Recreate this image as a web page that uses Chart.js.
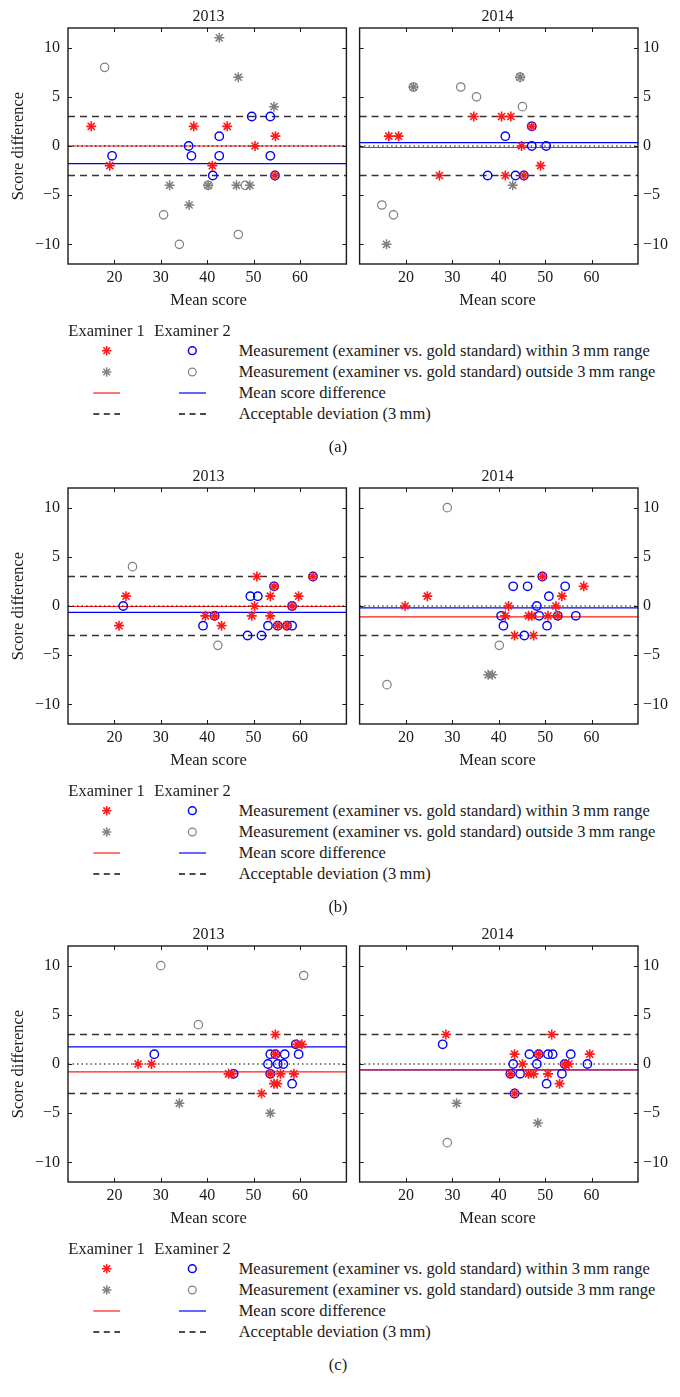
<!DOCTYPE html>
<html><head><meta charset="utf-8">
<script src="https://cdn.jsdelivr.net/npm/chart.js@4.4.1/dist/chart.umd.min.js"></script>
<style>
html,body{margin:0;padding:0;background:#fff;}
#root{position:relative;width:680px;height:1397px;overflow:hidden;font-family:"Liberation Serif","Times New Roman",serif;color:#1a1a1a;}
canvas{position:absolute;}
.t{position:absolute;white-space:nowrap;line-height:1;}
svg{position:absolute;overflow:visible;}
</style></head><body><div id="root"></div>
<script>
// ---- data (x = mean score, y = score difference) ----
const xTicks = [20, 30, 40, 50, 60];
const yTicks = [-10, -5, 0, 5, 10];
const panelTitles = ['2013', '2014'];
const captions = ['(a)', '(b)', '(c)'];
const acceptableDeviation = 3;

const a2013_e1_in  = [[15,2],[19,-2],[37.1,2],[44.3,2],[41.1,-2],[50.3,0],[54.7,1],[54.6,-3]];
const a2013_e2_in  = [[19.5,-1],[36,0],[36.6,-1],[42.6,1],[42.6,-1],[41.2,-3],[49.6,3],[53.6,3],[53.6,-1],[54.6,-3]];
const a2013_e1_out = [[42.6,11],[46.7,7],[54.4,4],[31.9,-4],[36.1,-6],[40.2,-4],[46.3,-4],[49.2,-4]];
const a2013_e2_out = [[17.9,8],[40.2,-4],[48.2,-4],[30.6,-7],[34,-10],[46.7,-9]];

const a2014_e1_in  = [[16.3,1],[18.4,1],[27.2,-3],[34.6,3],[40.6,3],[42.6,3],[41.4,-3],[44.9,0],[45.4,-3],[47.1,2],[49,-2]];
const a2014_e2_in  = [[41.4,1],[37.6,-3],[43.6,-3],[45.4,-3],[47.1,2],[47.1,0],[50.2,0]];
const a2014_e1_out = [[21.6,6],[44.6,7],[43,-4],[15.8,-10]];
const a2014_e2_out = [[21.6,6],[31.8,6],[35.2,5],[45.1,4],[44.6,7],[14.8,-6],[17.3,-7]];

const b2013_e1_in  = [[21,-2],[22.5,1],[39.6,-1],[41.6,-1],[43.1,-2],[49.6,-1],[50.7,3],[50.2,0],[53.6,1],[53.6,-1],[54.4,2],[55.2,-2],[57.2,-2],[58.3,0],[59.7,1],[62.8,3]];
const b2013_e2_in  = [[21.9,0],[39.1,-2],[41.6,-1],[48.7,-3],[49.3,1],[50.9,1],[51.7,-3],[53.1,-2],[54.4,2],[55.2,-2],[57.2,-2],[58.3,-2],[58.3,0],[62.8,3]];
const b2013_e1_out = [];
const b2013_e2_out = [[23.9,4],[42.3,-4]];

const b2014_e1_in  = [[19.8,0],[24.6,1],[41.4,-1],[42.1,0],[43.4,-3],[46.4,-1],[47.1,-1],[47.5,-3],[49.4,3],[50.6,-1],[52.3,0],[52.7,-1],[53.6,1],[58.3,2]];
const b2014_e2_in  = [[40.5,-1],[41,-2],[43.1,2],[45.5,-3],[46.2,2],[48.2,0],[48.7,-1],[49.4,3],[50.4,-2],[50.8,1],[52.7,-1],[54.3,2],[56.6,-1]];
const b2014_e1_out = [[37.7,-7],[38.6,-7]];
const b2014_e2_out = [[28.9,10],[40.1,-4],[15.9,-8]];

const c2013_e1_in  = [[25.1,0],[28,0],[44.6,-1],[45.3,-1],[51.7,-3],[53.6,-1],[54.7,3],[54.7,1],[54.4,-2],[55.1,-2],[55.8,-1],[58.7,-1],[59.4,2],[60.4,2]];
const c2013_e2_in  = [[28.6,1],[45.7,-1],[53.1,0],[53.6,1],[53.6,-1],[54.7,1],[55.2,0],[56.7,1],[56.4,0],[58.3,-2],[59.1,2],[59.7,1]];
const c2013_e1_out = [[34,-4],[53.6,-5]];
const c2013_e2_out = [[30,10],[38.1,4],[60.8,9]];

const c2014_e1_in  = [[28.6,3],[42.5,-1],[43.4,1],[43.4,-3],[45.1,0],[46.4,-1],[47.5,-1],[48.6,1],[50.6,-1],[51.4,3],[53.1,-2],[54.2,0],[55.1,0],[59.6,1]];
const c2014_e2_in  = [[27.9,2],[42.5,-1],[43.1,0],[43.4,-3],[44.6,-1],[46.6,1],[48.2,0],[48.6,1],[50.6,1],[51.6,1],[50.3,-2],[53.6,-1],[54.2,0],[55.5,1],[59.1,0]];
const c2014_e1_out = [[30.9,-4],[48.4,-6]];
const c2014_e2_out = [[28.9,-8]];

// mean score difference per panel: a2013, a2014, b2013, b2014, c2013, c2014
const meanExaminer1 = [0, -0.15, -0.05, -1.1, -0.8, -0.6];
const meanExaminer2 = [-1.8, 0.35, -0.65, -0.2, 1.75, -0.6];

const legendLabels = [
  'Measurement (examiner vs. gold standard) within 3\u2009mm range',
  'Measurement (examiner vs. gold standard) outside 3\u2009mm range',
  'Mean score difference',
  'Acceptable deviation (3\u2009mm)'
];
const legendHeaders = ['Examiner 1', 'Examiner 2'];

// ---- drawing ----
const RED = '#ff1a1a', BLUE = '#0000ff', GREY = '#7f7f7f', DASH = '#333333', INK = '#1a1a1a';
const FONT = 'Liberation Serif';
const root = document.getElementById('root');
const charts = [];
const panelSeries = [
  [a2013_e1_in, a2013_e2_in, a2013_e1_out, a2013_e2_out],
  [a2014_e1_in, a2014_e2_in, a2014_e1_out, a2014_e2_out],
  [b2013_e1_in, b2013_e2_in, b2013_e1_out, b2013_e2_out],
  [b2014_e1_in, b2014_e2_in, b2014_e1_out, b2014_e2_out],
  [c2013_e1_in, c2013_e2_in, c2013_e1_out, c2013_e2_out],
  [c2014_e1_in, c2014_e2_in, c2014_e1_out, c2014_e2_out]
];
const rowOffsets = [0, 460, 918];

function text(str, x, y, size, mode, extra) {
  const d = document.createElement('div');
  d.className = 't';
  d.textContent = str;
  d.style.left = x + 'px';
  d.style.top = y + 'px';
  d.style.fontSize = size + 'px';
  let tr = mode === 'center' ? 'translate(-50%,-50%)' : 'translate(0,-50%)';
  if (extra) tr += ' ' + extra;
  d.style.transform = tr;
  root.appendChild(d);
  return d;
}

const frame = {
  id: 'frame',
  afterDraw(chart) {
    const { ctx, chartArea: a, scales: { x, y } } = chart;
    ctx.save();
    ctx.strokeStyle = INK;
    ctx.lineWidth = 1;
    ctx.beginPath();
    xTicks.forEach(v => {
      const p = Math.round(x.getPixelForValue(v)) + 0.5;
      ctx.moveTo(p, a.bottom); ctx.lineTo(p, a.bottom - 4);
      ctx.moveTo(p, a.top); ctx.lineTo(p, a.top + 4);
    });
    yTicks.forEach(v => {
      const p = Math.round(y.getPixelForValue(v)) + 0.5;
      ctx.moveTo(a.left, p); ctx.lineTo(a.left + 4, p);
      ctx.moveTo(a.right, p); ctx.lineTo(a.right - 4, p);
    });
    ctx.stroke();
    ctx.lineWidth = 1.4;
    ctx.strokeRect(a.left, a.top, a.right - a.left, a.bottom - a.top);
    ctx.restore();
  }
};

function pts(arr) { return arr.map(p => ({ x: p[0], y: p[1] })); }
function hline(v) { return [{ x: 10, y: v }, { x: 70, y: v }]; }
function fmt(v) { return v < 0 ? '\u2212' + Math.abs(v) : String(v); }

function makePanel(idx) {
  const row = Math.floor(idx / 2), isLeft = idx % 2 === 0;
  const off = rowOffsets[row];
  const W = isLeft ? 353 : 327, H = 292;
  const c = document.createElement('canvas');
  c.width = W; c.height = H;
  c.style.width = W + 'px'; c.style.height = H + 'px';
  c.style.left = (isLeft ? 0 : 353) + 'px';
  c.style.top = off + 'px';
  root.appendChild(c);
  const [e1in, e2in, e1out, e2out] = panelSeries[idx];
  const m1 = meanExaminer1[idx], m2 = meanExaminer2[idx];
  const lineBase = { showLine: true, pointRadius: 0, fill: false, tension: 0 };
  charts.push(new Chart(c, {
    type: 'scatter',
    data: {
      datasets: [
        { data: pts(e1in), pointStyle: 'star', pointRadius: 5, borderColor: RED, borderWidth: 1.6, backgroundColor: RED, order: 0 },
        { data: pts(e2in), pointStyle: 'circle', pointRadius: 4.2, borderColor: BLUE, borderWidth: 1.4, backgroundColor: 'rgba(0,0,0,0)', order: 1 },
        { data: pts(e1out), pointStyle: 'star', pointRadius: 5, borderColor: GREY, borderWidth: 1.5, backgroundColor: GREY, order: 2 },
        { data: pts(e2out), pointStyle: 'circle', pointRadius: 4.2, borderColor: GREY, borderWidth: 1.2, backgroundColor: 'rgba(0,0,0,0)', order: 3 },
        Object.assign({ data: hline(0), borderColor: '#000', borderWidth: 1, borderDash: [1.5, 3] , order: 4}, lineBase),
        Object.assign({ data: hline(m1), borderColor: RED, borderWidth: 1.2, order: 5 }, lineBase),
        Object.assign({ data: hline(m2), borderColor: BLUE, borderWidth: 1.2, order: 6 }, lineBase),
        Object.assign({ data: hline(acceptableDeviation), borderColor: DASH, borderWidth: 1.5, borderDash: [7, 5], order: 7 }, lineBase),
        Object.assign({ data: hline(-acceptableDeviation), borderColor: DASH, borderWidth: 1.5, borderDash: [7, 5], order: 8 }, lineBase)
      ]
    },
    options: {
      responsive: false, animation: false, devicePixelRatio: 1,
      layout: { padding: { left: isLeft ? 0 : 4, right: isLeft ? 4 : 0, top: 28, bottom: 4 } },
      plugins: { legend: { display: false }, tooltip: { enabled: false } },
      scales: {
        x: {
          type: 'linear', min: 10, max: 70,
          afterBuildTicks: s => { s.ticks = xTicks.map(v => ({ value: v })); },
          afterFit: s => { s.height = 24; },
          grid: { display: false, drawTicks: false }, border: { display: false },
          ticks: { padding: 4, color: INK, font: { family: FONT, size: 16 }, maxRotation: 0, autoSkip: false }
        },
        y: {
          type: 'linear', position: isLeft ? 'left' : 'right', min: -12, max: 12,
          afterBuildTicks: s => { s.ticks = yTicks.map(v => ({ value: v })); },
          afterFit: s => { s.width = isLeft ? 68 : 42; },
          grid: { display: false, drawTicks: false }, border: { display: false },
          ticks: { padding: isLeft ? 8 : 5, color: INK, font: { family: FONT, size: 16 }, autoSkip: false, callback: v => fmt(v) }
        }
      }
    },
    plugins: [frame]
  }));
  const cx = isLeft ? 208.5 : 497.5;
  text(panelTitles[idx % 2], cx, 15.7 + off, 16, 'center');
  text('Mean score', cx, 299.5 + off, 16.5, 'center');
  if (isLeft) text('Score difference', 18.3, 146 + off, 16.5, 'center', 'rotate(-90deg)');
}

function svgEl(tag, attrs, parent) {
  const e = document.createElementNS('http://www.w3.org/2000/svg', tag);
  for (const k in attrs) e.setAttribute(k, attrs[k]);
  if (parent) parent.appendChild(e);
  return e;
}
function starSvg(cx, cy, r, color) {
  const s = svgEl('svg', { width: 1, height: 1 });
  s.style.left = '0px'; s.style.top = '0px';
  for (let k = 0; k < 4; k++) {
    const a = k * Math.PI / 4;
    svgEl('line', { x1: cx - r * Math.cos(a), y1: cy - r * Math.sin(a), x2: cx + r * Math.cos(a), y2: cy + r * Math.sin(a), stroke: color, 'stroke-width': 1.5 }, s);
  }
  root.appendChild(s);
}
function circleSvg(cx, cy, r, color, w) {
  const s = svgEl('svg', { width: 1, height: 1 });
  s.style.left = '0px'; s.style.top = '0px';
  svgEl('circle', { cx, cy, r, fill: 'none', stroke: color, 'stroke-width': w }, s);
  root.appendChild(s);
}
function lineSvg(x1, x2, y, color, dash, w) {
  const s = svgEl('svg', { width: 1, height: 1 });
  s.style.left = '0px'; s.style.top = '0px';
  const at = { x1, y1: y, x2, y2: y, stroke: color, 'stroke-width': w };
  if (dash) at['stroke-dasharray'] = dash;
  svgEl('line', at, s);
  root.appendChild(s);
}

function makeLegend(row) {
  const off = rowOffsets[row];
  text(legendHeaders[0], 68.3, 330.7 + off, 16.5, 'left');
  text(legendHeaders[1], 154.3, 330.7 + off, 16.5, 'left');
  const ys = [350.7, 372, 393, 414].map(v => v + off);
  const c1 = 106.7, c2 = 192.3;
  starSvg(c1, ys[0], 4.7, RED);
  circleSvg(c2, ys[0], 3.9, BLUE, 1.5);
  starSvg(c1, ys[1], 4.7, GREY);
  circleSvg(c2, ys[1], 3.9, GREY, 1.2);
  lineSvg(93.3, 120, ys[2], RED, null, 1.2);
  lineSvg(179, 206, ys[2], BLUE, null, 1.2);
  lineSvg(93.3, 120, ys[3], '#111', '6,4.5', 1.3);
  lineSvg(179, 206, ys[3], '#111', '6,4.5', 1.3);
  legendLabels.forEach((s, i) => text(s, 238.7, ys[i], 16.5, 'left'));
  text(captions[row], 338, 446.7 + off, 16.5, 'center');
}

for (let i = 0; i < 6; i++) makePanel(i);
for (let r = 0; r < 3; r++) makeLegend(r);
if (document.fonts && document.fonts.load) {
  document.fonts.load('16px "Liberation Serif"').then(() => charts.forEach(ch => ch.update())).catch(() => {});
}
</script></body></html>
